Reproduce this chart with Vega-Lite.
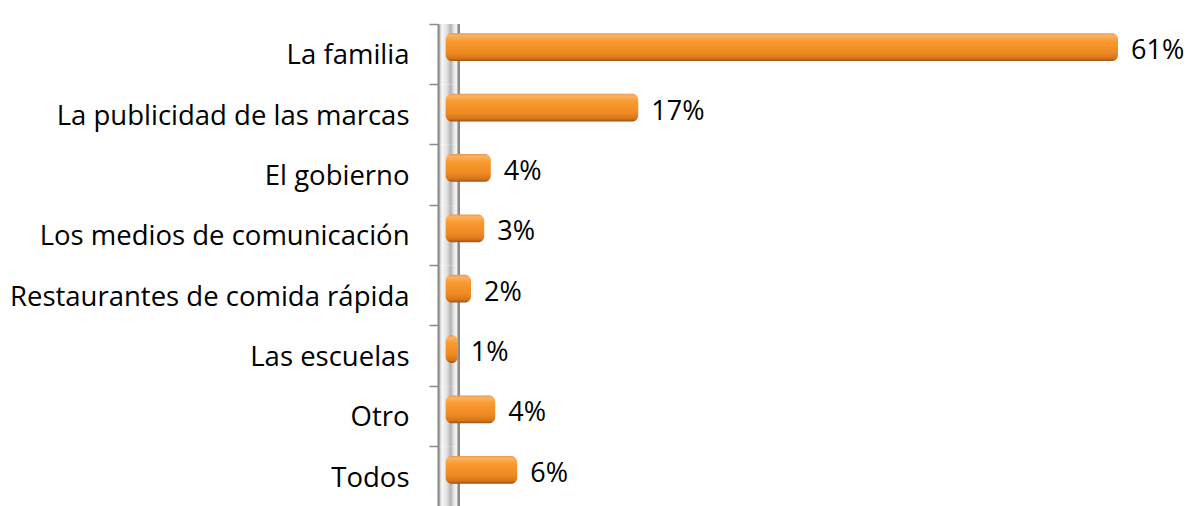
{
  "$schema": "https://vega.github.io/schema/vega-lite/v6.json",
  "width": 680,
  "height": 483,
  "autosize": {"type": "none"},
  "padding": {"left": 438, "top": 24, "right": 75, "bottom": 0},
  "background": "#ffffff",
  "config": {"view": {"stroke": null}},
  "data": {
    "values": [
      {"categoria": "La familia", "valor": 61.0, "etiqueta": "61%"},
      {"categoria": "La publicidad de las marcas", "valor": 17.4, "etiqueta": "17%"},
      {"categoria": "El gobierno", "valor": 4.0, "etiqueta": "4%"},
      {"categoria": "Los medios de comunicación", "valor": 3.4, "etiqueta": "3%"},
      {"categoria": "Restaurantes de comida rápida", "valor": 2.2, "etiqueta": "2%"},
      {"categoria": "Las escuelas", "valor": 1.0, "etiqueta": "1%"},
      {"categoria": "Otro", "valor": 4.4, "etiqueta": "4%"},
      {"categoria": "Todos", "valor": 6.4, "etiqueta": "6%"}
    ]
  },
  "encoding": {
    "y": {
      "field": "categoria",
      "type": "nominal",
      "sort": null,
      "scale": {"paddingInner": 0, "paddingOuter": 0},
      "axis": {
        "title": null,
        "bandPosition": 0,
        "domainColor": "#8a8a8a",
        "domainWidth": 2,
        "tickColor": "#8a8a8a",
        "tickWidth": 1.5,
        "tickSize": 9,
        "labelPadding": 20,
        "labelFont": "Open Sans",
        "labelFontSize": 27.5,
        "labelColor": "#000000",
        "labelLimit": 0,
        "labelOffset": 2,
        "grid": false
      }
    }
  },
  "layer": [
    {
      "mark": {
        "type": "rect",
        "fill": {
          "gradient": "linear", "x1": 0, "y1": 0, "x2": 1, "y2": 0,
          "stops": [
            {"offset": 0, "color": "#a8a8a8"},
            {"offset": 0.2, "color": "#f8f8f8"},
            {"offset": 0.45, "color": "#dcdcdc"},
            {"offset": 0.6, "color": "#b4b4b4"},
            {"offset": 0.8, "color": "#eeeeee"},
            {"offset": 1, "color": "#f4f4f4"}
          ]
        }
      },
      "encoding": {
        "x": {"datum": -0.8, "type": "quantitative", "scale": {"domain": [-0.8, 61], "zero": false, "nice": false}, "axis": null},
        "x2": {"datum": 1.1}
      }
    },
    {
      "mark": {"type": "rule", "stroke": "#8a8a8a", "strokeWidth": 2},
      "encoding": {
        "x": {"datum": 1.1, "type": "quantitative"},
        "y": null
      }
    },
    {
      "mark": {
        "type": "bar",
        "height": {"band": 0.46},
        "yOffset": -7,
        "cornerRadiusEnd": 6,
        "fill": {
          "gradient": "linear", "x1": 0, "y1": 0, "x2": 0, "y2": 1,
          "stops": [
            {"offset": 0, "color": "#e9964c"},
            {"offset": 0.08, "color": "#fbb262"},
            {"offset": 0.3, "color": "#f8992e"},
            {"offset": 0.7, "color": "#ee8a22"},
            {"offset": 0.9, "color": "#d6741a"},
            {"offset": 1, "color": "#9c5210"}
          ]
        }
      },
      "encoding": {
        "x": {"field": "valor", "type": "quantitative"},
        "x2": {"datum": -0.1}
      }
    },
    {
      "mark": {"type": "text", "align": "left", "baseline": "middle", "dx": 13, "dy": -3, "font": "Open Sans", "fontSize": 27, "color": "#000000"},
      "encoding": {
        "x": {"field": "valor", "type": "quantitative"},
        "text": {"field": "etiqueta", "type": "nominal"}
      }
    }
  ]
}
